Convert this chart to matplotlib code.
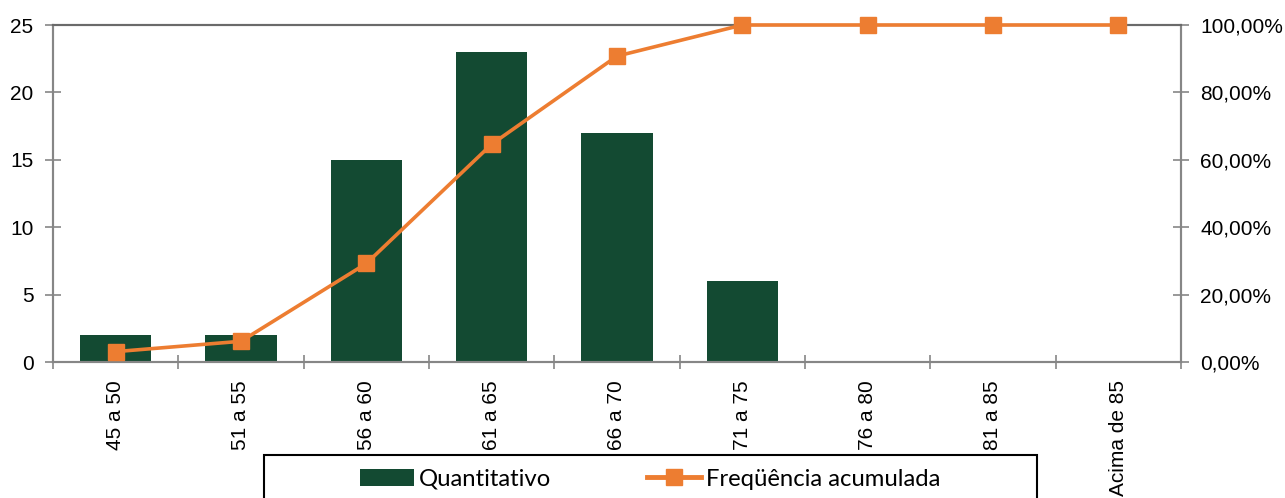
import matplotlib
matplotlib.use("Agg")
import matplotlib.pyplot as plt
from matplotlib.patches import Rectangle
from matplotlib.lines import Line2D
from matplotlib.patches import Patch
from matplotlib.ticker import FuncFormatter, MultipleLocator
import numpy as np

categories = ["45 a 50", "51 a 55", "56 a 60", "61 a 65", "66 a 70", "71 a 75", "76 a 80", "81 a 85", "Acima de 85"]
quantitativo = [2, 2, 15, 23, 17, 6, 0, 0, 0]
freq_acumulada = [0.0308, 0.0615, 0.2923, 0.6462, 0.9077, 1.0, 1.0, 1.0, 1.0]

green = "#134A32"
orange = "#ED7D31"
grey = "#868686"

plt.rcParams['font.family'] = ['Liberation Sans', 'DejaVu Sans']

fig = plt.figure(figsize=(12.85, 4.98), dpi=100)
ax = fig.add_axes([53/1285, 1-362/498, (1181-53)/1285, (362-25)/498])
x = np.arange(len(categories))
ax.bar(x, quantitativo, width=0.57, color=green, zorder=2)
ax.set_xlim(-0.5, len(categories)-0.5)
ax.set_ylim(0, 25)
ax.yaxis.set_major_locator(MultipleLocator(5))
ax.set_xticks(x)
ax.set_xticklabels(categories, rotation=90, fontsize=15)
ax.set_xticks(np.arange(len(categories)+1)-0.5, minor=True)
ax.tick_params(axis='x', which='major', length=0, pad=13)
ax.tick_params(axis='x', which='minor', direction='inout', length=10, color=grey, width=1.2)
ax.tick_params(axis='y', direction='inout', length=12, color=grey, width=1.2, labelsize=15, pad=8)
for s in ax.spines.values():
    s.set_color(grey)
    s.set_linewidth(1.5)
ax.spines['top'].set_color("#6a6a6a")

ax2 = ax.twinx()
ax2.plot(x, freq_acumulada, color=orange, lw=2.6, marker='s', markersize=12, zorder=3, clip_on=False)
ax2.set_ylim(0, 1)
ax2.yaxis.set_major_locator(MultipleLocator(0.2))
ax2.yaxis.set_major_formatter(FuncFormatter(lambda v, p: f"{v*100:.2f}%".replace('.', ',')))
ax2.tick_params(axis='y', direction='inout', length=12, color=grey, width=1.2, labelsize=15, pad=8)
for s in ax2.spines.values():
    s.set_color(grey)
    s.set_linewidth(1.5)
ax2.spines['top'].set_color("#6a6a6a")

# legend box
rect = Rectangle((264/1285, 1-520/498), (1037-264)/1285, 65/498, transform=fig.transFigure,
                 fill=False, edgecolor='black', lw=1.5, clip_on=False)
fig.add_artist(rect)
handles = [Patch(facecolor=green, edgecolor='none'),
           Line2D([0], [0], color=orange, lw=3.5, marker='s', markersize=12)]
leg = fig.legend(handles, ["Quantitativo", "Freqüência acumulada"], loc='center left',
                 bbox_to_anchor=(360/1285, 1-479/498), ncol=2, frameon=False,
                 prop={'family': ['Lato', 'DejaVu Sans'], 'size': 17.2},
                 borderpad=0, borderaxespad=0,
                 handlelength=2.25, handletextpad=0.22, columnspacing=4.0, handleheight=0.7)

fig.savefig("out.png", dpi=100)
